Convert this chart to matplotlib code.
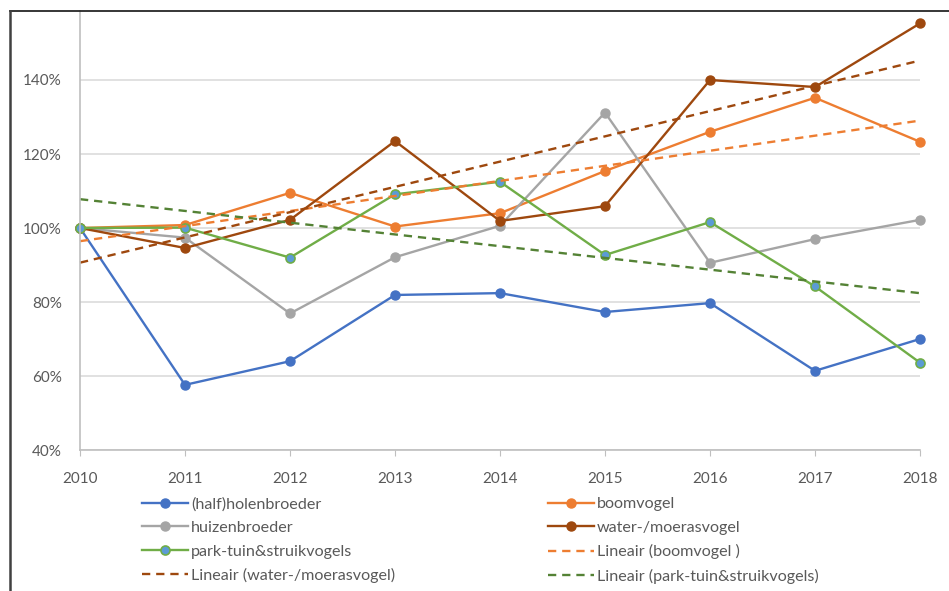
import numpy as np
import matplotlib
matplotlib.use('Agg')
import matplotlib.pyplot as plt
from matplotlib.lines import Line2D
from matplotlib.ticker import FuncFormatter

plt.rcParams['font.family'] = ['Lato', 'DejaVu Sans']

years = [2010, 2011, 2012, 2013, 2014, 2015, 2016, 2017, 2018]

holen = [100, 57.6, 64.0, 81.9, 82.4, 77.3, 79.7, 61.4, 70.0]
boom = [100, 100.8, 109.5, 100.4, 104.0, 115.4, 126.0, 135.2, 123.3]
huizen = [100, 97.4, 76.9, 92.1, 100.6, 131.2, 90.6, 97.0, 102.2]
water = [100, 94.6, 102.2, 123.5, 101.9, 105.9, 140.0, 138.1, 155.3]
park = [100, 100.1, 92.0, 109.1, 112.5, 92.7, 101.6, 84.2, 63.6]

txt = '#595959'
fig = plt.figure(figsize=(9.49, 5.91), dpi=100)
ax = fig.add_axes([80/949, 141/591, 840/949, 439/591])

x = np.arange(len(years))
lw = 1.7
ms = 6.5
h_holen, = ax.plot(x, holen, '-o', color='#4472C4', lw=lw, ms=ms, label='(half)holenbroeder')
h_boom, = ax.plot(x, boom, '-o', color='#ED7D31', lw=lw, ms=ms, label='boomvogel')
h_huizen, = ax.plot(x, huizen, '-o', color='#A5A5A5', lw=lw, ms=ms, label='huizenbroeder')
h_water, = ax.plot(x, water, '-o', color='#9E480E', lw=lw, ms=ms, label='water-/moerasvogel')
h_park, = ax.plot(x, park, '-o', color='#70AD47', lw=lw, ms=ms, mfc='#5B9BD5', mec='#70AD47', mew=1.2,
                  label='park-tuin&struikvogels')

# linear trend lines like in excel
def trend(vals, color, label):
    k, b = np.polyfit(x, vals, 1)
    h, = ax.plot(x, k * x + b, color=color, lw=lw, dashes=(3.5, 2.5), label=label)
    return h

t_boom = trend(boom, '#ED7D31', 'Lineair (boomvogel )')
t_water = trend(water, '#9E480E', 'Lineair (water-/moerasvogel)')
t_park = trend(park, '#548235', 'Lineair (park-tuin&struikvogels)')

ax.set_xlim(0, 8)
ax.set_ylim(40, 40 + 439 / 3.7)
ax.set_yticks([40, 60, 80, 100, 120, 140])
ax.yaxis.set_major_formatter(FuncFormatter(lambda v, p: '%d%%' % v))
ax.set_xticks(x)
ax.set_xticklabels([str(y) for y in years])
ax.grid(axis='y', color='#D9D9D9', lw=1.1)
ax.set_axisbelow(True)
for s in ['top', 'right']:
    ax.spines[s].set_visible(False)
ax.spines['left'].set_color('#BFBFBF')
ax.spines['bottom'].set_color('#BFBFBF')
ax.spines['left'].set_linewidth(1.2)
ax.spines['bottom'].set_linewidth(1.2)
ax.tick_params(axis='y', length=0, labelsize=11, labelcolor=txt, pad=13)
ax.tick_params(axis='x', length=4, color='#BFBFBF', labelsize=11, labelcolor=txt, pad=12)
for line in ax.lines:
    line.set_clip_on(False)

leg_kw = dict(frameon=False, fontsize=11.6, handlelength=2.85, handletextpad=0.2,
              labelspacing=0.58, borderpad=0, borderaxespad=0, loc='upper left', labelcolor=txt)
leg1 = fig.legend(handles=[h_holen, h_huizen, h_park, t_water],
                  bbox_to_anchor=(142/949, 1 - 497/591), **leg_kw)
leg2 = fig.legend(handles=[h_boom, h_water, t_boom, t_park],
                  bbox_to_anchor=(548/949, 1 - 497/591), **leg_kw)

# frame of the cropped chart
fig.add_artist(Line2D([10/949, 1], [1 - 11/591, 1 - 11/591], color='#262626', lw=1.3))
fig.add_artist(Line2D([10/949, 10/949], [0, 1 - 11/591], color='#404040', lw=1.8))

fig.savefig('out.png', dpi=100)
